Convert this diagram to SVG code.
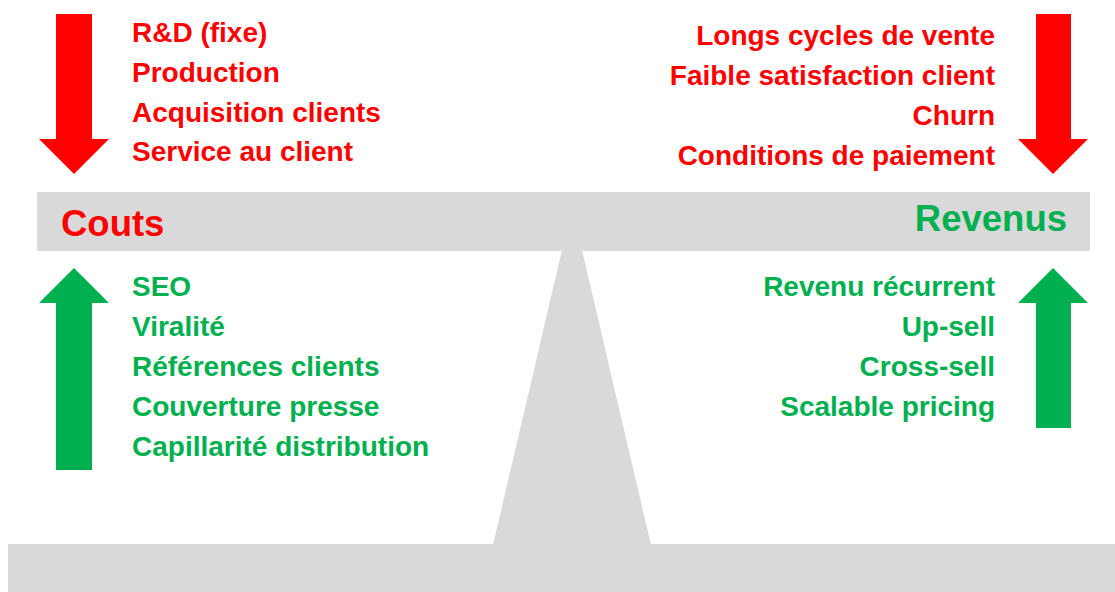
<svg xmlns="http://www.w3.org/2000/svg" width="1115" height="592" viewBox="0 0 1115 592">
<style>
.g{fill:#d9d9d9}
.r{fill:#ff0000}
.gr{fill:#00b050}
text{font-family:"Liberation Sans",Arial,sans-serif;font-weight:bold}
.t{font-size:28px}
.h{font-size:36.5px}
.e{text-anchor:end}
</style>
<rect width="1115" height="592" fill="#ffffff"/>
<g id="fulcrum"><polygon class="g" points="562,250 582,250 651,545 493,545"/></g>
<g id="base"><rect class="g" x="8" y="544" width="1107" height="48"/></g>
<g id="beam"><rect class="g" x="37" y="192" width="1053" height="59"/>
<text class="h r" x="61" y="236">Couts</text>
<text class="h gr e" x="1067" y="231">Revenus</text></g>
<g id="arrows">
<polygon id="arrow-cost-down" class="r" points="56,14 92,14 92,139 109,139 74,174 39,139 56,139"/>
<polygon id="arrow-rev-down" class="r" points="1036,14 1071,14 1071,139 1088,139 1053,174 1018,139 1036,139"/>
<polygon id="arrow-cost-up" class="gr" points="74,268 109,303 92,303 92,470 56,470 56,303 39,303"/>
<polygon id="arrow-rev-up" class="gr" points="1053,268 1088,303 1071,303 1071,428 1036,428 1036,303 1018,303"/>
</g>
<g id="cost-up-factors">
<text class="t r" x="132" y="42">R&amp;D (fixe)</text>
<text class="t r" x="132" y="82">Production</text>
<text class="t r" x="132" y="122">Acquisition clients</text>
<text class="t r" x="132" y="161">Service au client</text>
</g>
<g id="rev-down-factors">
<text class="t r e" x="995" y="45">Longs cycles de vente</text>
<text class="t r e" x="995" y="85">Faible satisfaction client</text>
<text class="t r e" x="995" y="125">Churn</text>
<text class="t r e" x="995" y="165">Conditions de paiement</text>
</g>
<g id="cost-down-factors">
<text class="t gr" x="132" y="296">SEO</text>
<text class="t gr" x="132" y="336">Viralité</text>
<text class="t gr" x="132" y="376">Références clients</text>
<text class="t gr" x="132" y="416">Couverture presse</text>
<text class="t gr" x="132" y="456">Capillarité distribution</text>
</g>
<g id="rev-up-factors">
<text class="t gr e" x="995" y="296">Revenu récurrent</text>
<text class="t gr e" x="995" y="336">Up-sell</text>
<text class="t gr e" x="995" y="376">Cross-sell</text>
<text class="t gr e" x="995" y="416">Scalable pricing</text>
</g>
</svg>
